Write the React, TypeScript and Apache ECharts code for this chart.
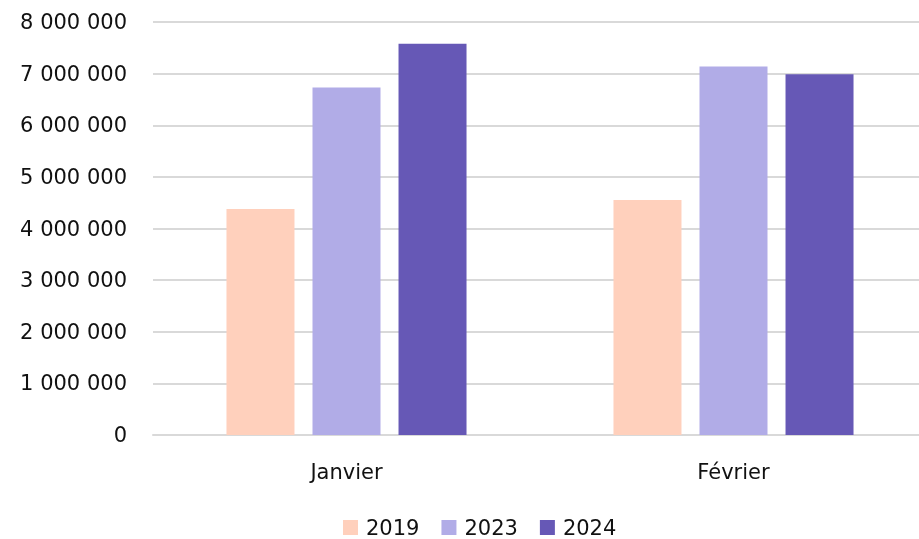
import React, { useEffect, useRef } from "react";
import * as echarts from "echarts";

const categories = ["Janvier", "Février"];
const seriesNames = ["2019", "2023", "2024"];
const values2019 = [4380000, 4550000];
const values2023 = [6730000, 7140000];
const values2024 = [7580000, 6990000];
const colors = ["#FFD0BC", "#B1ACE7", "#6658B6"];

const fmt = (v: number) => String(Math.round(v)).replace(/\B(?=(\d{3})+(?!\d))/g, " ");

export default function App() {
  const ref = useRef<HTMLDivElement>(null);
  useEffect(() => {
    if (!ref.current) return;
    const chart = echarts.init(ref.current, null, { renderer: "svg" });
    const font = "'DejaVu Sans', sans-serif";
    const data = [values2019, values2023, values2024];
    chart.setOption({
      animation: false,
      textStyle: { fontFamily: font },
      grid: { left: 153, right: 0, top: 22, bottom: 104, containLabel: false },
      legend: {
        left: 343,
        top: 517,
        itemWidth: 15,
        itemHeight: 15,
        itemGap: 22,
        icon: "rect",
        padding: 0,
        textStyle: { fontSize: 21, lineHeight: 21, color: "#111", fontFamily: font, padding: [0, 0, 0, 3] },
        data: seriesNames,
      },
      xAxis: {
        type: "category",
        data: categories,
        axisLine: { lineStyle: { color: "#d9d9d9", width: 2 } },
        axisTick: { show: false },
        axisLabel: { fontSize: 21, color: "#111", margin: 26, fontFamily: font },
      },
      yAxis: {
        type: "value",
        min: 0,
        max: 8000000,
        interval: 1000000,
        axisLine: { show: false },
        axisTick: { show: false },
        splitLine: { lineStyle: { color: "#d9d9d9", width: 2 } },
        axisLabel: { fontSize: 21, color: "#111", margin: 26, fontFamily: font, formatter: fmt },
      },
      series: seriesNames.map((name, i) => ({
        name,
        type: "bar",
        data: data[i],
        barWidth: 68,
        barGap: "26.5%",
        itemStyle: { color: colors[i] },
      })),
    });
    return () => chart.dispose();
  }, []);
  return (
    <div style={{ position: "fixed", left: 0, top: 0, width: 919, height: 539, overflow: "hidden" }}>
      <div ref={ref} style={{ width: 927, height: 539 }} />
    </div>
  );
}
